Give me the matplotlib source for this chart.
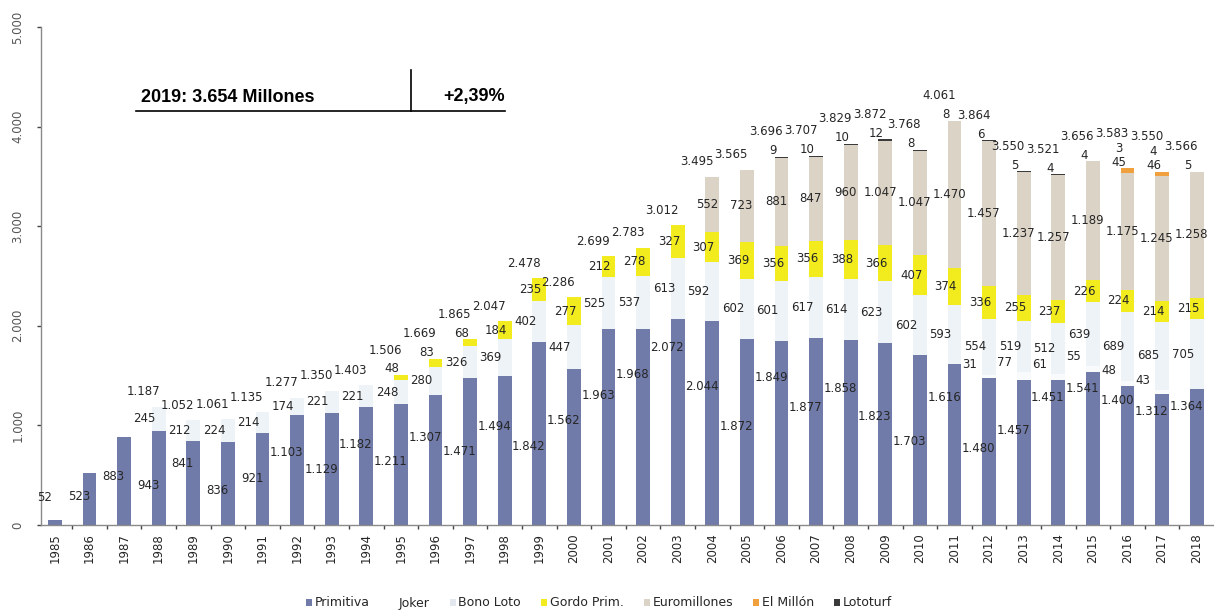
import matplotlib
matplotlib.use("Agg")
import matplotlib.pyplot as plt
from matplotlib.patches import Patch
from matplotlib.lines import Line2D
import numpy as np

years = [str(y) for y in range(1985, 2019)]
primitiva = [52, 523, 883, 943, 841, 836, 921, 1103, 1129, 1182, 1211, 1307, 1471, 1494,
             1842, 1562, 1963, 1968, 2072, 2044, 1872, 1849, 1877, 1858, 1823, 1703, 1616,
             1480, 1457, 1451, 1541, 1400, 1312, 1364]
joker = [0] * 27 + [31, 77, 61, 55, 48, 43, 0]
bono_loto = [0, 0, 0, 245, 212, 224, 214, 174, 221, 221, 248, 280, 326, 369, 402, 447, 525,
             537, 613, 592, 602, 601, 617, 614, 623, 602, 593, 554, 519, 512, 639, 689, 685, 705]
gordo = [0] * 10 + [48, 83, 68, 184, 235, 277, 212, 278, 327, 307, 369, 356, 356, 388, 366,
                    407, 374, 336, 255, 237, 226, 224, 214, 215]
euromillones = [0] * 19 + [552, 723, 881, 847, 960, 1047, 1047, 1470, 1457, 1237, 1257, 1189,
                           1175, 1245, 1258]
el_millon = [0] * 31 + [45, 46, 0]
lototurf = [0] * 21 + [9, 10, 10, 12, 8, 8, 6, 5, 4, 4, 3, 4, 5]
totals = [None, None, None, 1187, 1052, 1061, 1135, 1277, 1350, 1403, 1506, 1669, 1865, 2047,
          2478, 2286, 2699, 2783, 3012, 3495, 3565, 3696, 3707, 3829, 3872, 3768, 4061, 3864,
          3550, 3521, 3656, 3583, 3550, 3566]
series_names = ["Primitiva", "Joker", "Bono Loto", "Gordo Prim.", "Euromillones", "El Millón", "Lototurf"]
y_ticks = [0, 1000, 2000, 3000, 4000, 5000]

# layout: height of the Primitiva label as a fraction of its value
prim_label_frac = [5.4, 0.55, 0.55, 0.42, 0.74, 0.42, 0.51, 0.66, 0.49, 0.68, 0.53, 0.67, 0.5,
                   0.66, 0.43, 0.67, 0.66, 0.77, 0.86, 0.68, 0.53, 0.8, 0.63, 0.74, 0.6, 0.49,
                   0.79, 0.52, 0.65, 0.88, 0.89, 0.89, 0.87, 0.87]

colors = ["#717ba9", "#f8fafc", "#eef3f8", "#f2ec1e", "#dcd3c7", "#f0a03c", "#3a3a3a"]
TXT = "#262626"

def fmt(v):
    return f"{v:,}".replace(",", ".")

fig = plt.figure(figsize=(12.14, 6.16), dpi=100)
ax = fig.add_axes([41 / 1214, 1 - 525 / 616, 1 - 41 / 1214, (525 - 27) / 616])

x = np.arange(len(years))
data = [primitiva, joker, bono_loto, gordo, euromillones, el_millon, lototurf]
bottom = np.zeros(len(years))
for vals, col, name in zip(data, colors, series_names):
    v = np.array(vals, dtype=float)
    ax.bar(x, v, 0.4, bottom=bottom, color=col, edgecolor="none", label=name, zorder=2)
    bottom += v

fs = 8.5
for i in range(len(years)):
    p = primitiva[i]
    ax.text(i - 0.3, p * prim_label_frac[i], fmt(p), ha="center", va="center", fontsize=fs, color=TXT, zorder=5)
    base = p
    if joker[i]:
        ax.text(i - 0.55, base + joker[i] + 100, fmt(joker[i]), ha="center", va="center", fontsize=fs, color=TXT, zorder=5)
    base += joker[i]
    if bono_loto[i]:
        ax.text(i - 0.4, base + bono_loto[i] / 2, fmt(bono_loto[i]), ha="center", va="center", fontsize=fs, color=TXT, zorder=5)
    base += bono_loto[i]
    small = []
    if gordo[i]:
        if gordo[i] >= 100:
            ax.text(i - 0.25, base + gordo[i] / 2, fmt(gordo[i]), ha="center", va="center", fontsize=fs, color=TXT, zorder=5)
        else:
            small.append(gordo[i])
    base += gordo[i]
    if euromillones[i]:
        ax.text(i - 0.15, base + euromillones[i] / 2, fmt(euromillones[i]), ha="center", va="center", fontsize=fs, color=TXT, zorder=5)
    base += euromillones[i]
    if el_millon[i]:
        small.append(el_millon[i])
    if lototurf[i]:
        small.append(lototurf[i])
    top = bottom[i]
    for k, s in enumerate(small):
        ax.text(i - 0.25, top + 60 + 140 * k, fmt(s), ha="center", va="center", fontsize=fs, color=TXT, zorder=5)
    if totals[i] is not None:
        ax.text(i - 0.45, top + 150 + 100 * len(small), fmt(totals[i]), ha="center", va="center", fontsize=fs, color=TXT, zorder=5)

ax.set_xlim(-0.4, 33.5)
ax.set_ylim(0, 5000)
ax.set_yticks(y_ticks)
ax.set_yticklabels([fmt(t) for t in y_ticks], rotation=90, va="center", fontsize=8.5, color="#555555")
ax.set_xticks(x)
ax.set_xticklabels(years, rotation=90, fontsize=8.5, color=TXT)
ax.set_xticks(x[:-1] + 0.5, minor=True)
ax.tick_params(axis="x", which="major", length=0, pad=6)
ax.tick_params(axis="x", which="minor", length=3, width=1, color="#444444")
ax.tick_params(axis="y", length=3, width=1, color="#444444", pad=9)
for s in ["top", "right"]:
    ax.spines[s].set_visible(False)
for s in ["left", "bottom"]:
    ax.spines[s].set_color("#8a8a8a")
    ax.spines[s].set_linewidth(1)

handles = [Patch(facecolor=c, edgecolor="none") for c in colors]
handles[1] = Patch(facecolor="white", edgecolor="none")
handles[2] = Patch(facecolor="#e2e8ee", edgecolor="none")
leg = fig.legend(handles, series_names, loc="center", bbox_to_anchor=(599 / 1214, 1 - 603 / 616),
                 ncol=7, frameon=False, fontsize=9, handlelength=0.5, handleheight=0.5,
                 handletextpad=0.2, columnspacing=1.6)
for t in leg.get_texts():
    t.set_color(TXT)

# header box
fig.text(141 / 1214, 1 - 97 / 616, "2019: 3.654 Millones", fontsize=13, fontweight="bold",
         family="Liberation Sans", ha="left", va="center", color="black")
fig.text(505 / 1214, 1 - 97 / 616, "+2,39%", fontsize=13, fontweight="bold",
         family="Liberation Sans", ha="right", va="center", color="black")
fig.add_artist(Line2D([136 / 1214, 505 / 1214], [1 - 111 / 616, 1 - 111 / 616], color="black", lw=1.2))
fig.add_artist(Line2D([411 / 1214, 411 / 1214], [1 - 70 / 616, 1 - 111 / 616], color="black", lw=1.2))

fig.savefig("out.png", dpi=100)
